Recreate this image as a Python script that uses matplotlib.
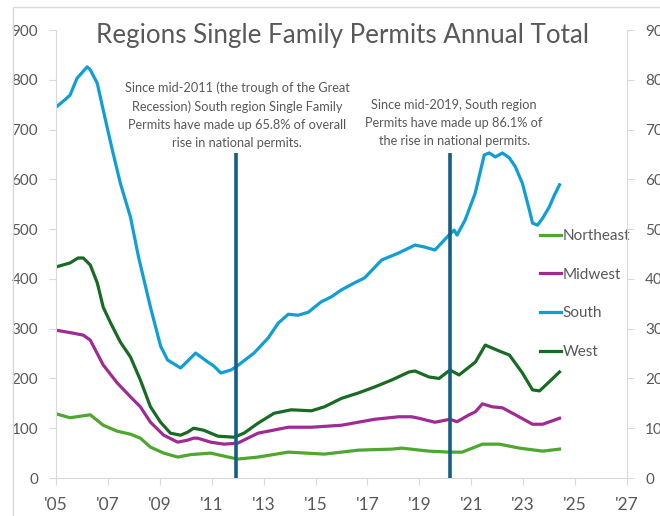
import matplotlib.pyplot as plt
from matplotlib.lines import Line2D

plt.rcParams["font.family"] = ["Lato", "DejaVu Sans"]

# Données (milliers de permis, total annuel glissant)
south_x = [2005.0, 2005.35, 2005.54, 2005.81, 2006.2, 2006.32, 2006.59, 2006.82, 2007.17, 2007.48,
           2007.87, 2008.18, 2008.64, 2009.03, 2009.3, 2009.8, 2010.38, 2010.85, 2011.08, 2011.35,
           2011.74, 2011.93, 2012.63, 2013.17, 2013.56, 2013.95, 2014.33, 2014.72, 2015.22, 2015.61,
           2016.0, 2016.5, 2016.89, 2017.55, 2018.2, 2018.83, 2019.2, 2019.6, 2020.14, 2020.34,
           2020.45, 2020.76, 2021.15, 2021.5, 2021.69, 2021.93, 2022.2, 2022.47, 2022.7, 2022.97,
           2023.24, 2023.36, 2023.55, 2023.75, 2024.0, 2024.2, 2024.4]
south_y = [745, 760, 769, 803, 826, 820, 793, 739, 659, 592,
           524, 444, 343, 265, 237, 221, 251, 233, 225, 211,
           217, 223, 251, 281, 311, 329, 327, 333, 354, 364,
           378, 392, 402, 438, 452, 468, 464, 458, 488, 498,
           488, 518, 572, 649, 653, 645, 653, 643, 625, 592,
           538, 512, 508, 522, 544, 568, 589]

west_x = [2005.0, 2005.54, 2005.85, 2006.05, 2006.32, 2006.59, 2006.82, 2007.09, 2007.48, 2007.87,
          2008.25, 2008.64, 2009.03, 2009.41, 2009.8, 2010.07, 2010.3, 2010.69, 2011.24, 2011.86,
          2012.24, 2012.78, 2013.4, 2014.06, 2014.84, 2015.34, 2016.0, 2016.66, 2017.28, 2017.94,
          2018.6, 2018.83, 2019.37, 2019.76, 2020.18, 2020.53, 2020.92, 2021.16, 2021.54, 2022.08,
          2022.47, 2022.97, 2023.36, 2023.63, 2024.0, 2024.4]
west_y = [424, 432, 442, 442, 428, 392, 343, 313, 273, 243,
          197, 143, 112, 90, 86, 92, 100, 96, 84, 82,
          90, 110, 130, 137, 135, 143, 160, 171, 183, 197,
          213, 215, 203, 200, 217, 207, 223, 233, 267, 255,
          247, 211, 177, 175, 193, 213]

midwest_x = [2005.0, 2005.66, 2006.05, 2006.32, 2006.82, 2007.36, 2007.87, 2008.25, 2008.64, 2009.15,
             2009.69, 2010.07, 2010.3, 2010.46, 2010.96, 2011.47, 2012.0, 2012.78, 2013.95, 2014.84,
             2016.0, 2017.28, 2018.2, 2018.7, 2018.98, 2019.6, 2020.18, 2020.45, 2020.92, 2021.16,
             2021.43, 2021.81, 2022.2, 2022.7, 2023.36, 2023.75, 2024.4]
midwest_y = [297, 291, 287, 277, 227, 191, 163, 143, 112, 86,
             72, 76, 80, 80, 72, 68, 70, 90, 102, 102,
             106, 118, 123, 123, 120, 112, 118, 113, 127, 133,
             149, 143, 141, 127, 108, 108, 120]

northeast_x = [2005.0, 2005.54, 2006.05, 2006.32, 2006.82, 2007.36, 2007.87, 2008.25, 2008.64, 2009.15,
               2009.69, 2010.19, 2010.96, 2011.47, 2012.0, 2012.78, 2013.95, 2015.34, 2016.66, 2017.94,
               2018.32, 2019.37, 2020.14, 2020.65, 2021.43, 2022.08, 2022.86, 2023.75, 2024.4]
northeast_y = [129, 121, 125, 127, 106, 94, 88, 80, 62, 50,
               42, 47, 50, 44, 38, 42, 52, 48, 56, 58,
               60, 54, 52, 52, 68, 68, 60, 54, 58]

marker_years = [2011.93, 2020.17]
marker_top = 653

year_ticks = list(range(2005, 2028, 2))
year_labels = ["'05", "'07", "'09", "'11", "'13", "'15", "'17", "'19", "'21", "'23", "'25", "'27"]
value_ticks = list(range(0, 1000, 100))

note_2011 = ("Since mid-2011 (the trough of the Great\n"
             "Recession) South region Single Family\n"
             "Permits have made up 65.8% of overall\n"
             "rise in national permits.")
note_2019 = ("Since mid-2019, South region\n"
             "Permits have made up 86.1% of\n"
             "the rise in national permits.")

GRIS = "#595959"
AXE = "#D9D9D9"

fig = plt.figure(figsize=(6.6, 5.16), dpi=100)
ax = fig.add_axes([56 / 660, 1 - 478 / 516, (627 - 56) / 660, (478 - 30) / 516])

ax.plot(northeast_x, northeast_y, color="#4EA72E", lw=2.3, label="Northeast")
ax.plot(midwest_x, midwest_y, color="#A02B93", lw=2.3, label="Midwest")
ax.plot(south_x, south_y, color="#0F9ED5", lw=2.3, label="South")
ax.plot(west_x, west_y, color="#196B24", lw=2.3, label="West")
ax.vlines(marker_years, 0, marker_top, color="#156082", lw=2.6, zorder=5)

ax.set_xlim(2005, 2027)
ax.set_ylim(0, 900)
ax.set_xticks(year_ticks)
ax.set_xticklabels(year_labels)
ax.set_yticks(value_ticks)

for side in ["top", "right"]:
    ax.spines[side].set_visible(False)
for side in ["left", "bottom"]:
    ax.spines[side].set_color(AXE)
ax.tick_params(axis="y", colors=AXE, labelcolor=GRIS, labelsize=11, length=5, pad=8)
ax.tick_params(axis="x", colors=AXE, labelcolor=GRIS, labelsize=12.5, length=5, pad=9)

# Axe de droite (coupé par le bord de l'image, comme sur l'original)
ax2 = ax.twinx()
ax2.set_ylim(0, 900)
ax2.set_yticks(value_ticks)
for side in ["top", "left", "bottom"]:
    ax2.spines[side].set_visible(False)
ax2.spines["right"].set_color(AXE)
ax2.tick_params(axis="y", colors=AXE, labelcolor=GRIS, labelsize=11, length=5, pad=8)

fig.text(342 / 660, 1 - 35 / 516, "Regions Single Family Permits Annual Total",
         ha="center", va="center", fontsize=18.7, color=GRIS)

ax.text(2011.97, 729, note_2011, ha="center", va="center", fontsize=9.2,
        color=GRIS, linespacing=1.6)
ax.text(2020.34, 713, note_2019, ha="center", va="center", fontsize=9.2,
        color=GRIS, linespacing=1.6)

ax.legend(loc="center left", bbox_to_anchor=(540 / 660, 1 - 294 / 516),
          bbox_transform=fig.transFigure, frameon=False, fontsize=11,
          labelcolor=GRIS, handlelength=1.35, handletextpad=0.15,
          labelspacing=1.62, borderpad=0, borderaxespad=0)

# Cadre du graphique Excel
fig.add_artist(Line2D([13 / 660, 13 / 660, 1.0], [0.0, 1 - 7 / 516, 1 - 7 / 516],
                      transform=fig.transFigure, color=AXE, lw=1))

fig.savefig("out.png", dpi=100)
